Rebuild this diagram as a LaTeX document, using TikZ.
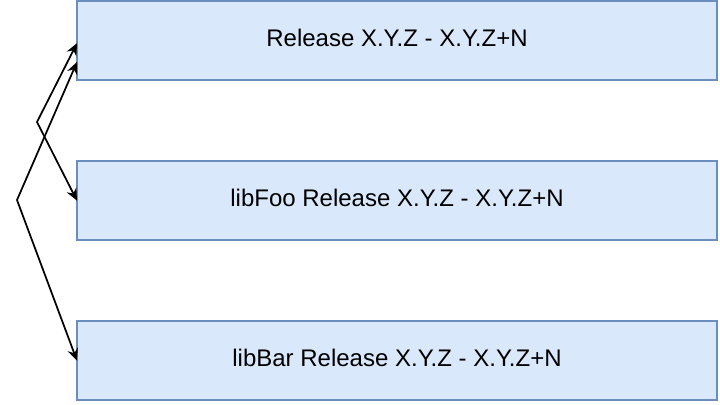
\documentclass[tikz,border=0pt]{standalone}
\usepackage{fontspec}
\setmainfont{Liberation Sans}
\usetikzlibrary{arrows.meta}
\usetikzlibrary{positioning}
\definecolor{boxFill}{HTML}{DAE8FC}
\definecolor{boxLine}{HTML}{6C8EBF}

\begin{document}
\begin{tikzpicture}
      [x=0.75pt,y=-0.75pt,
       releaseBox/.style={rectangle,draw=boxLine,fill=boxFill,line width=1.5pt,outer sep=0pt,inner sep=0pt,
         minimum width=480pt,minimum height=59.5pt,node distance=60.5pt,text depth=4pt,font=\fontsize{18}{21}\selectfont},
       link/.style={line width=1.3pt,{Stealth[length=9pt,width=8pt,inset=3pt]}-{Stealth[length=9pt,width=8pt,inset=3pt]}}]
      \useasboundingbox (0,0) rectangle (720,404);
      \node[releaseBox,anchor=north west] (release) at (77,1) {Release X.Y.Z - X.Y.Z+N};
      \node[releaseBox] (libFoo) [below=of release] {libFoo Release X.Y.Z - X.Y.Z+N};
      \node[releaseBox] (libBar) [below=of libFoo] {libBar Release X.Y.Z - X.Y.Z+N};
      \coordinate (bendFoo) at (37,122);
      \coordinate (bendBar) at (17,200);
      \draw[link] ([yshift=-1.9pt]release.west) -- (bendFoo) -- (libFoo.west);
      \draw[link] ([yshift=-16pt]release.west) -- (bendBar) -- (libBar.west);
    \end{tikzpicture}
\end{document}
